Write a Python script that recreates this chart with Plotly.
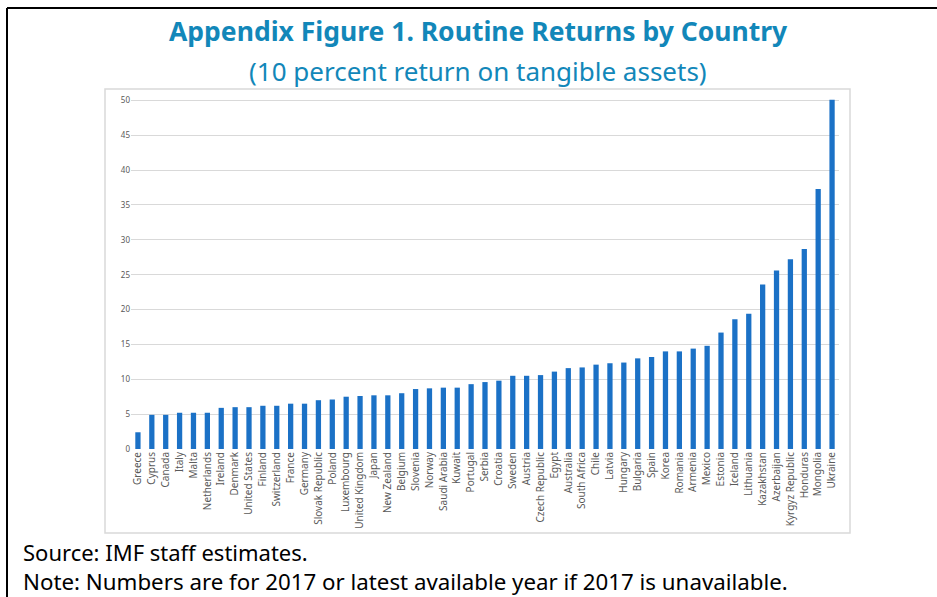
import plotly.graph_objects as go

# ================= DATA =================
countries = [
    "Greece", "Cyprus", "Canada", "Italy", "Malta", "Netherlands", "Ireland",
    "Denmark", "United States", "Finland", "Switzerland", "France", "Germany",
    "Slovak Republic", "Poland", "Luxembourg", "United Kingdom", "Japan",
    "New Zealand", "Belgium", "Slovenia", "Norway", "Saudi Arabia", "Kuwait",
    "Portugal", "Serbia", "Croatia", "Sweden", "Austria", "Czech Republic",
    "Egypt", "Australia", "South Africa", "Chile", "Latvia", "Hungary",
    "Bulgaria", "Spain", "Korea", "Romania", "Armenia", "Mexico", "Estonia",
    "Iceland", "Lithuania", "Kazakhstan", "Azerbaijan", "Kyrgyz Republic",
    "Honduras", "Mongolia", "Ukraine",
]
returns = [
    2.4, 4.9, 4.9, 5.2, 5.2, 5.2, 5.9,
    6.0, 6.0, 6.2, 6.2, 6.5, 6.5,
    7.0, 7.1, 7.5, 7.6, 7.7,
    7.7, 8.0, 8.6, 8.7, 8.8, 8.8,
    9.3, 9.6, 9.8, 10.5, 10.5, 10.6,
    11.1, 11.6, 11.7, 12.1, 12.3, 12.4,
    13.0, 13.2, 14.0, 14.0, 14.4, 14.8, 16.7,
    18.6, 19.4, 23.6, 25.6, 27.2,
    28.7, 37.3, 50.1,
]
y_ticks = [0, 5, 10, 15, 20, 25, 30, 35, 40, 45, 50]

title = "Appendix Figure 1. Routine Returns by Country"
subtitle = "(10 percent return on tangible assets)"
source = "Source: IMF staff estimates."
note = "Note: Numbers are for 2017 or latest available year if 2017 is unavailable."

W, H = 937, 597
L, R, T, B = 131, 98, 99, 148
PW, PH = W - L - R, H - T - B


def px(x):
    return (x - L) / PW


def py(y):
    return (H - B - y) / PH


TEAL = "#1287b9"
FONT = "Noto Sans"

fig = go.Figure()

fig.add_trace(go.Bar(
    x=countries,
    y=returns,
    marker=dict(color="#1b71c6", line=dict(width=0)),
    width=0.38,
))

# ================= LAYOUT =================
fig.update_layout(
    width=W,
    height=H,
    margin=dict(l=L, r=R, t=T, b=B),
    plot_bgcolor="white",
    paper_bgcolor="white",
    showlegend=False,
    font=dict(family=FONT, color="#595959"),
    xaxis=dict(
        tickangle=-90,
        tickfont=dict(size=10, color="#595959"),
        showgrid=False,
        showline=False,
        ticks="",
        range=[-0.5, len(countries) - 0.5],
    ),
    yaxis=dict(
        range=[0, 50.2],
        tickvals=y_ticks,
        tickfont=dict(size=8, color="#595959"),
        showgrid=True,
        gridcolor="#d9d9d9",
        gridwidth=1,
        zeroline=False,
        showline=False,
        ticks="",
        ticklen=0,
    ),
)

# chart box and outer frame
fig.add_shape(type="rect", xref="paper", yref="paper",
              x0=px(105), x1=px(850), y0=py(533), y1=py(89),
              line=dict(color="#d9d9d9", width=1.5), layer="below")
fig.add_shape(type="line", xref="paper", yref="paper",
              x0=px(7), x1=px(7), y0=py(8), y1=py(600),
              line=dict(color="black", width=2))
fig.add_shape(type="line", xref="paper", yref="paper",
              x0=px(7), x1=px(940), y0=py(8), y1=py(8),
              line=dict(color="black", width=2))

fig.add_annotation(text="<b>" + title + "</b>", xref="paper", yref="paper",
                   x=px(478), y=py(31), showarrow=False, xanchor="center", yanchor="middle",
                   font=dict(family=FONT, size=26.5, color=TEAL))
fig.add_annotation(text=subtitle, xref="paper", yref="paper",
                   x=px(478), y=py(71), showarrow=False, xanchor="center", yanchor="middle",
                   font=dict(family=FONT, size=26, color=TEAL))
fig.add_annotation(text=source, xref="paper", yref="paper",
                   x=px(21), y=py(552), showarrow=False, xanchor="left", yanchor="middle",
                   font=dict(family=FONT, size=22, color="black"))
fig.add_annotation(text=note, xref="paper", yref="paper",
                   x=px(21), y=py(581), showarrow=False, xanchor="left", yanchor="middle",
                   font=dict(family=FONT, size=22.3, color="black"))

# page has an 8px body margin by default; drop it so the figure fills the window
fig.write_html("out.html", config={"displayModeBar": False},
               post_script="document.body.style.margin='0';document.body.style.overflow='hidden';")
